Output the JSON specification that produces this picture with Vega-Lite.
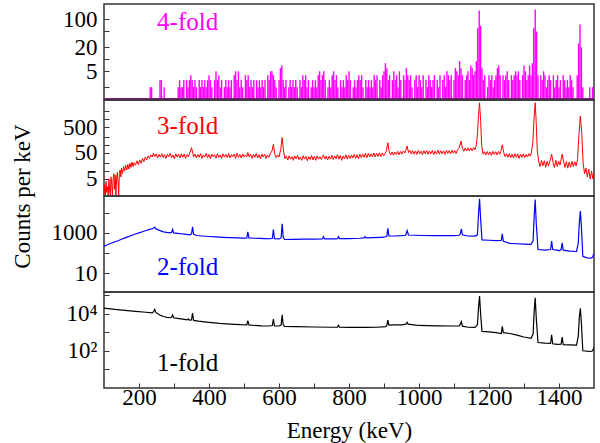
{
"$schema": "https://vega.github.io/schema/vega-lite/v6.json",
"background": "white",
"padding": {"left": 10, "top": 3, "right": 6, "bottom": 0},
"spacing": 0,
"bounds": "flush",
"config": {
  "view": {"stroke": "#333", "strokeWidth": 1.5},
  "font": "Liberation Serif",
  "axis": {"labelFont": "Liberation Serif", "labelFontSize": 23, "labelColor": "black", "titleFont": "Liberation Serif", "titleFontSize": 23, "titleFontWeight": "normal", "titleColor": "black", "domain": false, "grid": false, "tickColor": "#333", "tickSize": -5, "labelPadding": 12}
},
"datasets": {
"k4": [
{"e":232,"v":2},{"e":236,"v":2},{"e":260,"v":3},{"e":264,"v":3},{"e":272,"v":2},
{"e":312,"v":2},{"e":316,"v":3},{"e":320,"v":2},{"e":324,"v":2},{"e":328,"v":3},{"e":336,"v":3},{"e":340,"v":2},{"e":344,"v":3},{"e":348,"v":4},{"e":352,"v":3},{"e":356,"v":2},{"e":360,"v":3},{"e":364,"v":2},{"e":372,"v":3},{"e":376,"v":2},{"e":380,"v":3},{"e":384,"v":2},{"e":388,"v":3},{"e":392,"v":2},{"e":396,"v":3},{"e":400,"v":4},{"e":404,"v":3},{"e":408,"v":2},{"e":416,"v":3},{"e":420,"v":5},{"e":424,"v":3},{"e":428,"v":4},{"e":432,"v":2},{"e":436,"v":3},{"e":444,"v":2},{"e":448,"v":3},{"e":452,"v":2},{"e":456,"v":3},{"e":460,"v":2},{"e":464,"v":3},{"e":472,"v":4},{"e":476,"v":5},{"e":480,"v":3},{"e":484,"v":5},{"e":488,"v":2},{"e":492,"v":3},{"e":496,"v":2},{"e":504,"v":4},{"e":508,"v":3},{"e":512,"v":4},{"e":516,"v":2},{"e":520,"v":3},{"e":524,"v":2},{"e":528,"v":3},{"e":536,"v":3},{"e":540,"v":2},{"e":544,"v":3},{"e":548,"v":2},{"e":552,"v":3},{"e":556,"v":2},{"e":560,"v":3},{"e":568,"v":4},{"e":572,"v":3},{"e":576,"v":5},{"e":580,"v":5},{"e":584,"v":4},{"e":588,"v":3},{"e":592,"v":2},{"e":600,"v":3},{"e":604,"v":6},{"e":608,"v":7},{"e":612,"v":3},{"e":616,"v":2},{"e":620,"v":3},{"e":628,"v":2},{"e":632,"v":3},{"e":636,"v":2},{"e":640,"v":3},{"e":644,"v":2},{"e":648,"v":3},{"e":652,"v":2},{"e":660,"v":3},{"e":664,"v":2},{"e":668,"v":4},{"e":672,"v":3},{"e":676,"v":4},{"e":680,"v":2},{"e":684,"v":3},{"e":692,"v":2},{"e":696,"v":3},{"e":700,"v":2},{"e":704,"v":3},{"e":708,"v":2},{"e":712,"v":4},{"e":716,"v":5},{"e":720,"v":3},{"e":724,"v":4},{"e":728,"v":5},{"e":732,"v":3},{"e":740,"v":2},{"e":744,"v":3},{"e":748,"v":2},{"e":752,"v":4},{"e":756,"v":5},{"e":760,"v":3},{"e":764,"v":4},{"e":768,"v":2},{"e":776,"v":3},{"e":780,"v":2},{"e":784,"v":3},{"e":788,"v":2},{"e":792,"v":4},{"e":796,"v":3},{"e":800,"v":5},{"e":804,"v":3},{"e":812,"v":2},{"e":816,"v":3},{"e":820,"v":2},{"e":824,"v":3},{"e":828,"v":4},{"e":832,"v":3},{"e":836,"v":4},{"e":840,"v":2},{"e":848,"v":3},{"e":852,"v":2},{"e":856,"v":3},{"e":860,"v":2},{"e":864,"v":3},{"e":868,"v":2},{"e":872,"v":4},{"e":876,"v":3},{"e":880,"v":4},{"e":888,"v":3},{"e":892,"v":2},{"e":896,"v":4},{"e":900,"v":5},{"e":904,"v":8},{"e":908,"v":6},{"e":912,"v":3},{"e":916,"v":4},{"e":924,"v":3},{"e":928,"v":5},{"e":932,"v":3},{"e":936,"v":4},{"e":940,"v":2},{"e":944,"v":5},{"e":948,"v":3},{"e":956,"v":4},{"e":960,"v":3},{"e":964,"v":6},{"e":968,"v":4},{"e":972,"v":3},{"e":976,"v":4},{"e":980,"v":2},{"e":988,"v":3},{"e":992,"v":4},{"e":996,"v":2},{"e":1000,"v":4},{"e":1004,"v":3},{"e":1008,"v":2},{"e":1012,"v":4},{"e":1020,"v":3},{"e":1024,"v":2},{"e":1028,"v":4},{"e":1032,"v":3},{"e":1036,"v":2},{"e":1040,"v":3},{"e":1044,"v":4},{"e":1052,"v":3},{"e":1056,"v":2},{"e":1060,"v":4},{"e":1068,"v":3},{"e":1072,"v":4},{"e":1076,"v":2},{"e":1080,"v":5},{"e":1084,"v":4},{"e":1088,"v":3},{"e":1092,"v":4},{"e":1100,"v":3},{"e":1104,"v":6},{"e":1108,"v":5},{"e":1112,"v":4},{"e":1116,"v":9},{"e":1120,"v":6},{"e":1124,"v":4},{"e":1132,"v":3},{"e":1136,"v":4},{"e":1140,"v":5},{"e":1144,"v":3},{"e":1148,"v":7},{"e":1152,"v":6},{"e":1156,"v":4},{"e":1160,"v":5},{"e":1164,"v":9},{"e":1168,"v":60},{"e":1172,"v":168},{"e":1176,"v":70},{"e":1180,"v":6},{"e":1184,"v":3},{"e":1188,"v":4},{"e":1196,"v":2},{"e":1200,"v":4},{"e":1204,"v":3},{"e":1208,"v":4},{"e":1212,"v":2},{"e":1216,"v":3},{"e":1220,"v":4},{"e":1224,"v":6},{"e":1228,"v":7},{"e":1232,"v":4},{"e":1240,"v":4},{"e":1244,"v":3},{"e":1248,"v":4},{"e":1252,"v":5},{"e":1256,"v":3},{"e":1264,"v":4},{"e":1268,"v":3},{"e":1272,"v":4},{"e":1276,"v":5},{"e":1280,"v":4},{"e":1284,"v":5},{"e":1288,"v":3},{"e":1296,"v":4},{"e":1300,"v":7},{"e":1304,"v":5},{"e":1308,"v":3},{"e":1312,"v":4},{"e":1316,"v":7},{"e":1320,"v":4},{"e":1324,"v":8},{"e":1328,"v":60},{"e":1332,"v":178},{"e":1336,"v":50},{"e":1340,"v":4},{"e":1348,"v":4},{"e":1352,"v":3},{"e":1356,"v":5},{"e":1360,"v":4},{"e":1364,"v":2},{"e":1368,"v":3},{"e":1372,"v":4},{"e":1376,"v":3},{"e":1384,"v":4},{"e":1388,"v":2},{"e":1392,"v":3},{"e":1396,"v":4},{"e":1400,"v":2},{"e":1404,"v":3},{"e":1412,"v":4},{"e":1416,"v":3},{"e":1420,"v":2},{"e":1424,"v":3},{"e":1428,"v":2},{"e":1432,"v":4},{"e":1436,"v":3},{"e":1440,"v":2},{"e":1452,"v":4},{"e":1456,"v":25},{"e":1460,"v":75},{"e":1464,"v":20},{"e":1468,"v":2},{"e":1488,"v":2},{"e":1496,"v":2}
],
"k3": [
{"e":100,"v":1.2},{"e":102,"v":3},{"e":104,"v":1.2},{"e":106,"v":4},{"e":108,"v":1.5},{"e":110,"v":2.5},{"e":112,"v":1.2},{"e":114,"v":5},{"e":116,"v":2},{"e":118,"v":1.2},{"e":120,"v":6},{"e":122,"v":3},{"e":124,"v":1.2},{"e":126,"v":5},{"e":128,"v":8},{"e":130,"v":2},{"e":132,"v":7},{"e":134,"v":1.2},{"e":136,"v":5},{"e":138,"v":9},{"e":140,"v":4},{"e":142,"v":1.2},{"e":144,"v":8},{"e":146,"v":11},{"e":148,"v":6},{"e":150,"v":13},{"e":153,"v":8},{"e":156,"v":15},{"e":159,"v":10},{"e":162,"v":17},{"e":165,"v":11},{"e":168,"v":18},{"e":171,"v":12},{"e":174,"v":20},{"e":177,"v":14},{"e":180,"v":22},{"e":183,"v":15},{"e":186,"v":21},{"e":190,"v":17},{"e":194,"v":25},{"e":198,"v":18},{"e":202,"v":27},{"e":206,"v":20},{"e":210,"v":31},{"e":214,"v":23},{"e":218,"v":35},{"e":222,"v":27},{"e":226,"v":38},{"e":230,"v":31},{"e":234,"v":42},{"e":238,"v":35},{"e":241,"v":49},{"e":245,"v":36},{"e":249,"v":46},{"e":253,"v":32},{"e":257,"v":44},{"e":261,"v":35},{"e":265,"v":47},{"e":269,"v":33},{"e":273,"v":43},{"e":277,"v":31},{"e":281,"v":45},{"e":285,"v":36},{"e":289,"v":48},{"e":293,"v":33},{"e":297,"v":42},{"e":301,"v":30},{"e":305,"v":46},{"e":309,"v":35},{"e":313,"v":44},{"e":317,"v":32},{"e":321,"v":47},{"e":325,"v":34},{"e":329,"v":45},{"e":333,"v":31},{"e":337,"v":43},{"e":341,"v":36},{"e":345,"v":50},{"e":350,"v":80},{"e":353,"v":55},{"e":356,"v":36},{"e":360,"v":45},{"e":364,"v":32},{"e":368,"v":44},{"e":372,"v":34},{"e":376,"v":47},{"e":380,"v":31},{"e":384,"v":42},{"e":388,"v":35},{"e":392,"v":48},{"e":396,"v":33},{"e":400,"v":44},{"e":404,"v":30},{"e":408,"v":45},{"e":412,"v":36},{"e":416,"v":43},{"e":420,"v":32},{"e":424,"v":47},{"e":428,"v":34},{"e":432,"v":42},{"e":436,"v":31},{"e":440,"v":46},{"e":444,"v":35},{"e":448,"v":44},{"e":452,"v":33},{"e":456,"v":48},{"e":460,"v":32},{"e":464,"v":43},{"e":468,"v":36},{"e":472,"v":45},{"e":476,"v":31},{"e":480,"v":49},{"e":484,"v":34},{"e":488,"v":44},{"e":492,"v":32},{"e":496,"v":46},{"e":500,"v":35},{"e":504,"v":42},{"e":508,"v":36},{"e":511,"v":52},{"e":515,"v":35},{"e":519,"v":45},{"e":523,"v":31},{"e":527,"v":44},{"e":531,"v":34},{"e":535,"v":47},{"e":539,"v":32},{"e":543,"v":43},{"e":547,"v":30},{"e":551,"v":45},{"e":555,"v":35},{"e":559,"v":44},{"e":563,"v":31},{"e":567,"v":42},{"e":571,"v":34},{"e":575,"v":47},{"e":580,"v":60},{"e":584,"v":108},{"e":588,"v":45},{"e":592,"v":33},{"e":596,"v":42},{"e":600,"v":35},{"e":605,"v":70},{"e":609,"v":195},{"e":613,"v":60},{"e":617,"v":30},{"e":621,"v":38},{"e":625,"v":27},{"e":629,"v":39},{"e":633,"v":29},{"e":637,"v":36},{"e":641,"v":26},{"e":645,"v":38},{"e":649,"v":30},{"e":653,"v":40},{"e":657,"v":28},{"e":661,"v":35},{"e":665,"v":26},{"e":669,"v":39},{"e":673,"v":29},{"e":677,"v":37},{"e":681,"v":25},{"e":685,"v":36},{"e":689,"v":28},{"e":693,"v":40},{"e":697,"v":27},{"e":701,"v":37},{"e":705,"v":26},{"e":709,"v":39},{"e":713,"v":29},{"e":717,"v":36},{"e":721,"v":28},{"e":727,"v":42},{"e":731,"v":29},{"e":735,"v":38},{"e":739,"v":27},{"e":743,"v":37},{"e":747,"v":29},{"e":751,"v":41},{"e":755,"v":28},{"e":759,"v":38},{"e":763,"v":30},{"e":767,"v":43},{"e":771,"v":29},{"e":775,"v":40},{"e":779,"v":26},{"e":783,"v":38},{"e":787,"v":30},{"e":791,"v":43},{"e":795,"v":29},{"e":799,"v":40},{"e":803,"v":31},{"e":807,"v":42},{"e":811,"v":32},{"e":815,"v":44},{"e":819,"v":31},{"e":823,"v":43},{"e":827,"v":30},{"e":831,"v":45},{"e":835,"v":33},{"e":839,"v":44},{"e":843,"v":34},{"e":847,"v":49},{"e":851,"v":33},{"e":855,"v":47},{"e":859,"v":35},{"e":863,"v":46},{"e":867,"v":36},{"e":871,"v":50},{"e":875,"v":35},{"e":879,"v":48},{"e":883,"v":37},{"e":887,"v":51},{"e":891,"v":36},{"e":895,"v":50},{"e":899,"v":39},{"e":903,"v":48},{"e":907,"v":62},{"e":911,"v":124},{"e":915,"v":55},{"e":919,"v":42},{"e":923,"v":55},{"e":927,"v":41},{"e":931,"v":54},{"e":935,"v":44},{"e":939,"v":58},{"e":943,"v":43},{"e":947,"v":57},{"e":951,"v":45},{"e":955,"v":60},{"e":960,"v":50},{"e":966,"v":93},{"e":970,"v":52},{"e":974,"v":63},{"e":978,"v":46},{"e":982,"v":61},{"e":986,"v":45},{"e":990,"v":60},{"e":994,"v":44},{"e":998,"v":62},{"e":1002,"v":47},{"e":1006,"v":59},{"e":1010,"v":43},{"e":1014,"v":61},{"e":1018,"v":46},{"e":1022,"v":63},{"e":1026,"v":44},{"e":1030,"v":60},{"e":1034,"v":47},{"e":1038,"v":62},{"e":1042,"v":43},{"e":1046,"v":59},{"e":1050,"v":46},{"e":1054,"v":64},{"e":1058,"v":45},{"e":1062,"v":61},{"e":1066,"v":47},{"e":1070,"v":60},{"e":1074,"v":44},{"e":1078,"v":63},{"e":1082,"v":48},{"e":1086,"v":61},{"e":1090,"v":46},{"e":1094,"v":64},{"e":1098,"v":49},{"e":1102,"v":62},{"e":1106,"v":48},{"e":1110,"v":66},{"e":1115,"v":80},{"e":1120,"v":145},{"e":1124,"v":75},{"e":1128,"v":58},{"e":1132,"v":78},{"e":1136,"v":60},{"e":1140,"v":80},{"e":1144,"v":59},{"e":1148,"v":77},{"e":1152,"v":61},{"e":1156,"v":82},{"e":1160,"v":66},{"e":1163,"v":90},{"e":1167,"v":250},{"e":1170,"v":1500},{"e":1173,"v":4300},{"e":1176,"v":900},{"e":1179,"v":100},{"e":1183,"v":45},{"e":1187,"v":56},{"e":1191,"v":42},{"e":1195,"v":57},{"e":1199,"v":43},{"e":1203,"v":55},{"e":1207,"v":40},{"e":1211,"v":58},{"e":1215,"v":44},{"e":1219,"v":56},{"e":1223,"v":42},{"e":1227,"v":57},{"e":1231,"v":45},{"e":1234,"v":60},{"e":1238,"v":102},{"e":1242,"v":52},{"e":1246,"v":36},{"e":1250,"v":46},{"e":1254,"v":34},{"e":1258,"v":47},{"e":1262,"v":33},{"e":1266,"v":45},{"e":1270,"v":32},{"e":1274,"v":47},{"e":1278,"v":34},{"e":1282,"v":46},{"e":1286,"v":31},{"e":1290,"v":45},{"e":1294,"v":34},{"e":1298,"v":46},{"e":1302,"v":33},{"e":1306,"v":44},{"e":1310,"v":35},{"e":1314,"v":47},{"e":1318,"v":38},{"e":1321,"v":50},{"e":1325,"v":120},{"e":1329,"v":1200},{"e":1332,"v":4300},{"e":1335,"v":700},{"e":1338,"v":60},{"e":1342,"v":24},{"e":1346,"v":15},{"e":1350,"v":26},{"e":1354,"v":16},{"e":1358,"v":25},{"e":1362,"v":14},{"e":1366,"v":24},{"e":1370,"v":16},{"e":1375,"v":27},{"e":1379,"v":45},{"e":1383,"v":22},{"e":1387,"v":14},{"e":1391,"v":26},{"e":1395,"v":15},{"e":1399,"v":24},{"e":1403,"v":17},{"e":1409,"v":45},{"e":1413,"v":24},{"e":1417,"v":14},{"e":1421,"v":23},{"e":1425,"v":13},{"e":1429,"v":22},{"e":1433,"v":14},{"e":1437,"v":24},{"e":1441,"v":15},{"e":1445,"v":23},{"e":1449,"v":16},{"e":1453,"v":28},{"e":1457,"v":250},{"e":1461,"v":1320},{"e":1465,"v":300},{"e":1469,"v":20},{"e":1473,"v":8},{"e":1477,"v":13},{"e":1481,"v":6},{"e":1485,"v":12},{"e":1489,"v":5},{"e":1493,"v":10},{"e":1497,"v":5},{"e":1500,"v":8}
],
"k2": [
{"e":100,"v":220},{"e":110,"v":260},{"e":120,"v":305},{"e":130,"v":355},{"e":140,"v":410},{"e":150,"v":480},{"e":160,"v":565},{"e":170,"v":650},{"e":180,"v":760},{"e":190,"v":880},{"e":200,"v":1000},{"e":210,"v":1140},{"e":220,"v":1300},{"e":230,"v":1480},{"e":238,"v":1600},{"e":242,"v":1750},{"e":245,"v":1900},{"e":248,"v":1600},{"e":255,"v":1400},{"e":262,"v":1250},{"e":270,"v":1120},{"e":279,"v":1050},{"e":287,"v":1000},{"e":293,"v":1050},{"e":296,"v":1470},{"e":299,"v":1000},{"e":310,"v":950},{"e":320,"v":900},{"e":330,"v":860},{"e":340,"v":820},{"e":346,"v":800},{"e":350,"v":900},{"e":353,"v":1980},{"e":356,"v":850},{"e":365,"v":740},{"e":380,"v":700},{"e":400,"v":660},{"e":420,"v":630},{"e":440,"v":600},{"e":460,"v":580},{"e":480,"v":560},{"e":500,"v":550},{"e":508,"v":560},{"e":511,"v":1120},{"e":514,"v":560},{"e":530,"v":540},{"e":546,"v":530},{"e":560,"v":520},{"e":575,"v":510},{"e":581,"v":540},{"e":584,"v":1470},{"e":587,"v":520},{"e":600,"v":500},{"e":606,"v":560},{"e":609,"v":2790},{"e":612,"v":600},{"e":616,"v":470},{"e":640,"v":480},{"e":670,"v":485},{"e":700,"v":490},{"e":724,"v":500},{"e":727,"v":650},{"e":730,"v":500},{"e":760,"v":500},{"e":767,"v":520},{"e":770,"v":640},{"e":773,"v":520},{"e":800,"v":520},{"e":830,"v":540},{"e":843,"v":560},{"e":846,"v":650},{"e":849,"v":560},{"e":870,"v":580},{"e":890,"v":600},{"e":900,"v":610},{"e":908,"v":680},{"e":911,"v":1650},{"e":914,"v":700},{"e":930,"v":700},{"e":950,"v":730},{"e":962,"v":760},{"e":966,"v":1310},{"e":970,"v":780},{"e":990,"v":760},{"e":1010,"v":740},{"e":1040,"v":730},{"e":1070,"v":730},{"e":1100,"v":730},{"e":1115,"v":760},{"e":1118,"v":900},{"e":1121,"v":1580},{"e":1124,"v":800},{"e":1140,"v":700},{"e":1160,"v":690},{"e":1167,"v":800},{"e":1170,"v":8000},{"e":1173,"v":48000},{"e":1176,"v":5000},{"e":1180,"v":450},{"e":1200,"v":430},{"e":1220,"v":410},{"e":1235,"v":420},{"e":1238,"v":890},{"e":1241,"v":380},{"e":1260,"v":300},{"e":1280,"v":290},{"e":1300,"v":280},{"e":1320,"v":270},{"e":1326,"v":400},{"e":1329,"v":6000},{"e":1332,"v":44700},{"e":1335,"v":3000},{"e":1340,"v":150},{"e":1360,"v":140},{"e":1376,"v":150},{"e":1379,"v":390},{"e":1382,"v":150},{"e":1395,"v":140},{"e":1400,"v":130},{"e":1406,"v":150},{"e":1409,"v":320},{"e":1412,"v":140},{"e":1430,"v":125},{"e":1450,"v":120},{"e":1455,"v":300},{"e":1458,"v":3000},{"e":1461,"v":11900},{"e":1464,"v":2000},{"e":1468,"v":70},{"e":1480,"v":58},{"e":1490,"v":57},{"e":1496,"v":62},{"e":1500,"v":95}
],
"k1": [
{"e":100,"v":19500},{"e":130,"v":17000},{"e":160,"v":15000},{"e":190,"v":13200},{"e":220,"v":11800},{"e":238,"v":11000},{"e":242,"v":13000},{"e":245,"v":17000},{"e":248,"v":11500},{"e":255,"v":9500},{"e":262,"v":8000},{"e":270,"v":7000},{"e":280,"v":6300},{"e":290,"v":6000},{"e":293,"v":6400},{"e":296,"v":8600},{"e":299,"v":6000},{"e":310,"v":5500},{"e":325,"v":5000},{"e":338,"v":4600},{"e":341,"v":5200},{"e":344,"v":4500},{"e":350,"v":4600},{"e":353,"v":10700},{"e":356,"v":4300},{"e":370,"v":3900},{"e":400,"v":3400},{"e":430,"v":3000},{"e":460,"v":2750},{"e":490,"v":2550},{"e":508,"v":2500},{"e":511,"v":4150},{"e":514,"v":2450},{"e":530,"v":2300},{"e":550,"v":2200},{"e":570,"v":2150},{"e":581,"v":2300},{"e":584,"v":5100},{"e":587,"v":2200},{"e":600,"v":2150},{"e":606,"v":2400},{"e":609,"v":8600},{"e":612,"v":2500},{"e":616,"v":2050},{"e":650,"v":2000},{"e":700,"v":1900},{"e":750,"v":1850},{"e":767,"v":1850},{"e":770,"v":2400},{"e":773,"v":1850},{"e":800,"v":1800},{"e":850,"v":1800},{"e":880,"v":1850},{"e":905,"v":2000},{"e":908,"v":2300},{"e":911,"v":4500},{"e":914,"v":2400},{"e":930,"v":2500},{"e":950,"v":2500},{"e":963,"v":2700},{"e":966,"v":3400},{"e":969,"v":2700},{"e":985,"v":2500},{"e":1000,"v":2300},{"e":1050,"v":2200},{"e":1100,"v":2150},{"e":1115,"v":2200},{"e":1118,"v":2700},{"e":1121,"v":3700},{"e":1124,"v":2100},{"e":1140,"v":1850},{"e":1160,"v":1800},{"e":1167,"v":2500},{"e":1170,"v":20000},{"e":1173,"v":89000},{"e":1176,"v":10000},{"e":1180,"v":1100},{"e":1200,"v":1050},{"e":1220,"v":950},{"e":1235,"v":850},{"e":1238,"v":2050},{"e":1241,"v":950},{"e":1260,"v":850},{"e":1280,"v":700},{"e":1300,"v":550},{"e":1320,"v":470},{"e":1326,"v":800},{"e":1329,"v":12000},{"e":1332,"v":71000},{"e":1335,"v":6000},{"e":1340,"v":280},{"e":1360,"v":260},{"e":1376,"v":250},{"e":1379,"v":720},{"e":1382,"v":240},{"e":1395,"v":220},{"e":1406,"v":230},{"e":1409,"v":540},{"e":1412,"v":215},{"e":1430,"v":210},{"e":1450,"v":200},{"e":1455,"v":600},{"e":1458,"v":6000},{"e":1461,"v":19500},{"e":1464,"v":3000},{"e":1468,"v":100},{"e":1480,"v":95},{"e":1490,"v":92},{"e":1496,"v":100},{"e":1500,"v":150}
]
},
"vconcat": [
{
  "width": 490, "height": 96,
  "layer": [
    {"data": {"name": "k4"}, "mark": {"type": "bar", "color": "#ff00ff", "width": 1.4, "clip": true},
     "encoding": {
       "x": {"field": "e", "type": "quantitative", "scale": {"domain": [100, 1500], "nice": false, "zero": false, "padding": 0}, "axis": null},
       "y": {"field": "v", "type": "quantitative", "scale": {"type": "log", "domain": [0.95, 245], "nice": false},
             "axis": {"title": null, "values": [2, 5, 10, 20, 50, 100], "labelExpr": "datum.value == 5 ? '5' : datum.value == 20 ? '20' : datum.value == 100 ? '100' : ''"}},
       "y2": {"datum": 1}
     }},
    {"data": {"values": [{"t": "4-fold"}]}, "mark": {"type": "rule", "color": "#7a1f7a", "strokeWidth": 2}, "encoding": {"y": {"datum": 1}}},
    {"data": {"values": [{"t": "4-fold"}]}, "mark": {"type": "text", "color": "#ff00ff", "font": "Liberation Serif", "fontSize": 25, "align": "center", "baseline": "alphabetic"},
     "encoding": {"x": {"datum": 339}, "y": {"datum": 56}, "text": {"field": "t"}}}
  ]
},
{
  "width": 490, "height": 96,
  "layer": [
    {"data": {"name": "k3"}, "mark": {"type": "line", "color": "#ff0000", "strokeWidth": 1, "clip": true},
     "encoding": {
       "x": {"field": "e", "type": "quantitative", "scale": {"domain": [100, 1500], "nice": false, "zero": false}, "axis": null},
       "y": {"field": "v", "type": "quantitative", "scale": {"type": "log", "domain": [1.1, 5500], "nice": false},
             "axis": {"title": "Counts per keV", "titleY": 96, "titleX": -70, "values": [2, 5, 10, 20, 50, 100, 200, 500, 1000, 2000], "labelExpr": "datum.value == 5 ? '5' : datum.value == 50 ? '50' : datum.value == 500 ? '500' : ''"}}
     }},
    {"data": {"values": [{"t": "3-fold"}]}, "mark": {"type": "text", "color": "#ff0000", "font": "Liberation Serif", "fontSize": 25, "align": "center", "baseline": "alphabetic"},
     "encoding": {"x": {"datum": 339}, "y": {"datum": 262}, "text": {"field": "t"}}}
  ]
},
{
  "width": 490, "height": 96,
  "layer": [
    {"data": {"name": "k2"}, "mark": {"type": "line", "color": "#0000ff", "strokeWidth": 1.2, "clip": true},
     "encoding": {
       "x": {"field": "e", "type": "quantitative", "scale": {"domain": [100, 1500], "nice": false, "zero": false}, "axis": null},
       "y": {"field": "v", "type": "quantitative", "scale": {"type": "log", "domain": [1.2, 66000], "nice": false},
             "axis": {"title": null, "values": [10, 100, 1000, 10000], "labelExpr": "datum.value == 10 ? '10' : datum.value == 1000 ? '1000' : ''"}}
     }},
    {"data": {"values": [{"t": "2-fold"}]}, "mark": {"type": "text", "color": "#0000ff", "font": "Liberation Serif", "fontSize": 25, "align": "center", "baseline": "alphabetic"},
     "encoding": {"x": {"datum": 339}, "y": {"datum": 8.7}, "text": {"field": "t"}}}
  ]
},
{
  "width": 490, "height": 96,
  "layer": [
    {"data": {"name": "k1"}, "mark": {"type": "line", "color": "#000000", "strokeWidth": 1.2, "clip": true},
     "encoding": {
       "x": {"field": "e", "type": "quantitative", "scale": {"domain": [100, 1500], "nice": false, "zero": false},
             "axis": {"title": "Energy (keV)", "values": [200, 300, 400, 500, 600, 700, 800, 900, 1000, 1100, 1200, 1300, 1400], "labelExpr": "datum.value % 200 == 0 ? '' + datum.value : ''", "labelPadding": 3, "titlePadding": 10}},
       "y": {"field": "v", "type": "quantitative", "scale": {"type": "log", "domain": [1, 145000], "nice": false},
             "axis": {"title": null, "values": [10, 100, 1000, 10000, 100000], "labelExpr": "datum.value == 100 ? '10²' : datum.value == 10000 ? '10⁴' : ''"}}
     }},
    {"data": {"values": [{"t": "1-fold"}]}, "mark": {"type": "text", "color": "#000000", "font": "Liberation Serif", "fontSize": 25, "align": "center", "baseline": "alphabetic"},
     "encoding": {"x": {"datum": 339}, "y": {"datum": 8}, "text": {"field": "t"}}}
  ]
}
]
}
